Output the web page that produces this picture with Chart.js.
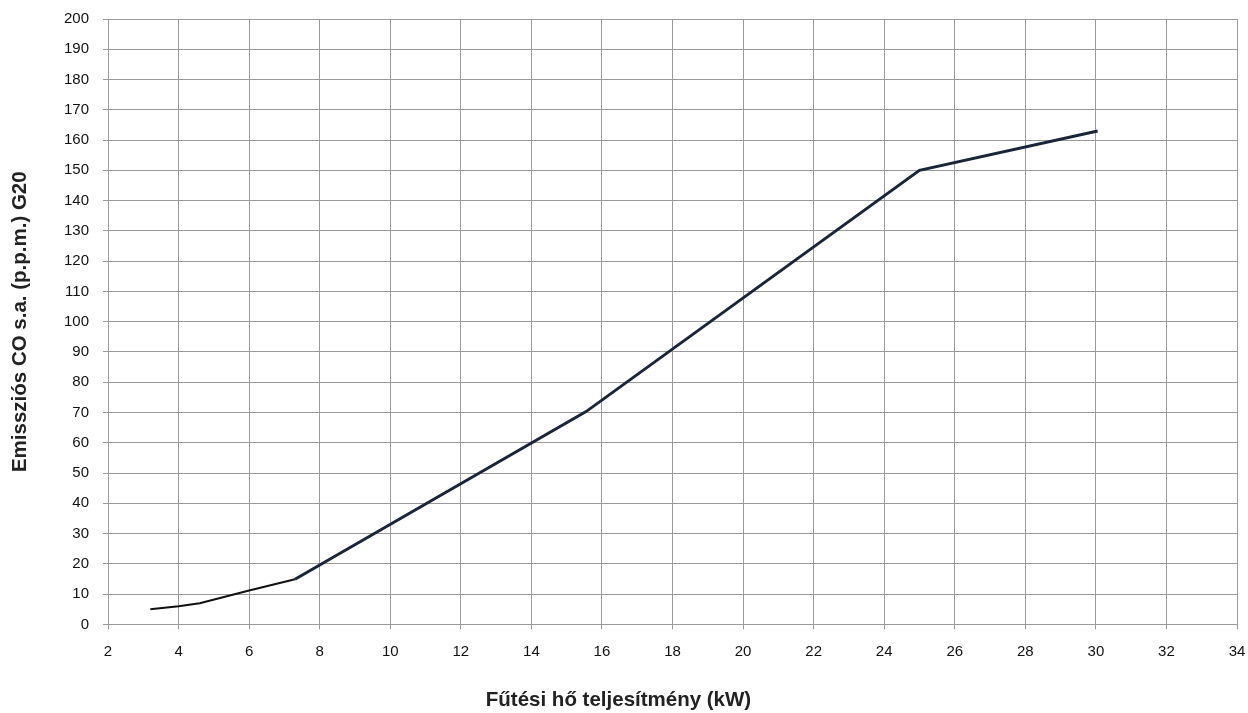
<!DOCTYPE html>
<html>
<head>
<meta charset="utf-8">
<script src="https://cdn.jsdelivr.net/npm/chart.js@4/dist/chart.umd.min.js"></script>
<style>
html,body{margin:0;padding:0;background:#fff;}
#wrap{width:1248px;height:713px;position:relative;}
</style>
</head>
<body>
<div id="wrap"><canvas id="c"></canvas></div>
<script>
// Data
const lowPowerKW = [3.2, 4, 4.6, 6, 7.3];
const lowPowerCO = [5, 6, 7, 11.2, 14.9];
const highPowerKW = [7.3, 15.55, 25, 30.05];
const highPowerCO = [14.9, 70.3, 150, 163];
const xTitle = 'Fűtési hő teljesítmény (kW)';
const yTitle = 'Emissziós CO s.a. (p.p.m.) G20';

const toPts = (xs, ys) => xs.map((x, i) => ({x: x, y: ys[i]}));
const FONT = "'Liberation Sans', Arial, Helvetica, sans-serif";
const GRID = '#9a9a9a';

new Chart(document.getElementById('c'), {
  type: 'scatter',
  data: {
    datasets: [
      {data: toPts(lowPowerKW, lowPowerCO), showLine: true, borderColor: '#111111', borderWidth: 2, pointRadius: 0, tension: 0},
      {data: toPts(highPowerKW, highPowerCO), showLine: true, borderColor: '#1a2538', borderWidth: 3, pointRadius: 0, tension: 0}
    ]
  },
  options: {
    responsive: true,
    maintainAspectRatio: false,
    animation: false,
    layout: {padding: {top: 19, right: 11, left: 0, bottom: 0}},
    plugins: {
      legend: {display: false},
      tooltip: {enabled: false},
      title: {
        display: true, position: 'bottom', text: xTitle, color: '#222',
        font: {family: FONT, size: 20.5, weight: 'bold'},
        padding: {top: 0, bottom: 0}
      }
    },
    scales: {
      x: {
        type: 'linear', min: 2, max: 34,
        ticks: {stepSize: 2, color: '#111', font: {family: FONT, size: 15}, padding: 13, maxRotation: 0},
        grid: {color: GRID, lineWidth: 1, tickLength: 5, drawTicks: true},
        border: {color: GRID, width: 1},
        afterFit: s => { s.height = 64; s.paddingRight = 0; s.paddingLeft = 0; }
      },
      y: {
        type: 'linear', min: 0, max: 200,
        ticks: {stepSize: 10, color: '#111', font: {family: FONT, size: 15}, padding: 14},
        grid: {color: GRID, lineWidth: 1, tickLength: 5, drawTicks: true},
        border: {color: GRID, width: 1},
        title: {display: true, text: yTitle, color: '#222', font: {family: FONT, size: 20.5, weight: 'bold'}, padding: {top: 8, bottom: 0}},
        afterFit: s => { s.width = 108; s.paddingTop = 0; s.paddingBottom = 0; }
      }
    }
  }
});
</script>
</body>
</html>
